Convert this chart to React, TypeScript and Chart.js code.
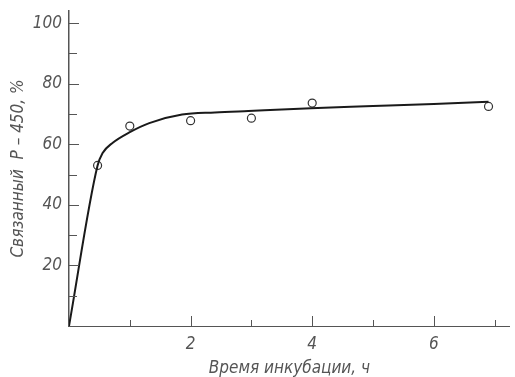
import React, { useEffect, useRef } from "react";
import { Chart, registerables } from "chart.js";

Chart.register(...registerables);

const measuredHours = [0.47, 1, 2, 3, 4, 6.9];
const measuredBound = [53, 66, 67.8, 68.6, 73.6, 72.5];

const curveHours = [0, 0.47, 0.55, 0.72, 1, 1.32, 1.86, 2.4, 2.95, 3.98, 5, 6, 6.9];
const curveBound = [0, 53, 57, 60.5, 64, 67, 69.8, 70.5, 71, 71.9, 72.6, 73.3, 74];

const yTickValues = [10, 20, 30, 40, 50, 60, 70, 80, 90, 100];
const yTickLabels = ["20", "40", "60", "80", "100"];
const xTickValues = [1, 2, 3, 4, 5, 6, 7];
const xTickLabels = ["2", "4", "6"];

const FONT = "'Liberation Sans Narrow', 'DejaVu Sans Condensed', 'Liberation Sans', sans-serif";
const AXIS = "#555";

const innerTicks = {
  id: "innerTicks",
  afterDraw(chart: any) {
    const { ctx, chartArea, scales } = chart;
    ctx.save();
    ctx.strokeStyle = AXIS;
    ctx.lineWidth = 1;
    yTickValues.forEach((v) => {
      const y = Math.round(scales.y.getPixelForValue(v)) + 0.5;
      const len = yTickLabels.includes(String(v)) ? 10 : 8;
      ctx.beginPath();
      ctx.moveTo(chartArea.left, y);
      ctx.lineTo(chartArea.left + len, y);
      ctx.stroke();
    });
    xTickValues.forEach((v) => {
      const x = Math.round(scales.x.getPixelForValue(v)) + 0.5;
      const len = xTickLabels.includes(String(v)) ? 10 : 6;
      ctx.beginPath();
      ctx.moveTo(x, chartArea.bottom);
      ctx.lineTo(x, chartArea.bottom - len);
      ctx.stroke();
    });
    ctx.restore();
  },
};

export default function App() {
  const ref = useRef<HTMLCanvasElement | null>(null);
  useEffect(() => {
    if (!ref.current) return;
    const chart = new Chart(ref.current, {
      type: "scatter",
      data: {
        datasets: [
          {
            type: "line",
            data: curveHours.map((x, i) => ({ x, y: curveBound[i] })),
            borderColor: "#1a1a1a",
            borderWidth: 2,
            pointRadius: 0,
            cubicInterpolationMode: "monotone",
            fill: false,
          } as any,
          {
            data: measuredHours.map((x, i) => ({ x, y: measuredBound[i] })),
            pointRadius: 4,
            pointBackgroundColor: "#fff",
            pointBorderColor: "#333",
            pointBorderWidth: 1.2,
          },
        ],
      },
      options: {
        animation: false,
        responsive: false,
        layout: { padding: { top: 11, right: 2, left: 0, bottom: 0 } },
        plugins: { legend: { display: false }, tooltip: { enabled: false } },
        scales: {
          x: {
            type: "linear",
            min: 0,
            max: 7.25,
            afterBuildTicks: (s: any) => {
              s.ticks = [0, ...xTickValues].map((v) => ({ value: v }));
            },
            afterFit: (s: any) => {
              s.height = 51;
              s.paddingLeft = 0;
              s.paddingRight = 0;
            },
            ticks: {
              autoSkip: false,
              maxRotation: 0,
              padding: 10,
              color: AXIS,
              font: { family: FONT, size: 17, style: "italic", lineHeight: 1 },
              callback: (v: any) => (xTickLabels.includes(String(v)) ? String(v) : ""),
            },
            grid: { display: false, drawTicks: false },
            border: { display: true, color: AXIS, width: 1 },
            title: {
              display: true,
              text: "Время инкубации, ч",
              color: AXIS,
              font: { family: FONT, size: 17, style: "italic", lineHeight: 1 },
              padding: { top: 6, bottom: 0 },
            },
          },
          y: {
            type: "linear",
            min: 0,
            max: 104,
            afterBuildTicks: (s: any) => {
              s.ticks = [0, ...yTickValues].map((v) => ({ value: v }));
            },
            afterFit: (s: any) => {
              s.width = 69;
              s.paddingTop = 0;
              s.paddingBottom = 0;
            },
            ticks: {
              autoSkip: false,
              padding: 7,
              color: AXIS,
              font: { family: FONT, size: 17, style: "italic", lineHeight: 1 },
              callback: (v: any) => (yTickLabels.includes(String(v)) ? String(v) : ""),
            },
            grid: { display: false, drawTicks: false },
            border: { display: true, color: AXIS, width: 1.5 },
            title: {
              display: true,
              text: "Связанный  P – 450, %",
              color: AXIS,
              font: { family: FONT, size: 17, style: "italic" },
              padding: { top: 8, bottom: 0 },
            },
          },
        },
      },
      plugins: [innerTicks],
    } as any);
    return () => chart.destroy();
  }, []);
  return (
    <div style={{ position: "fixed", left: 0, top: 0, width: 515, height: 377, background: "#fff" }}>
      <canvas ref={ref} width={515} height={377} />
    </div>
  );
}
